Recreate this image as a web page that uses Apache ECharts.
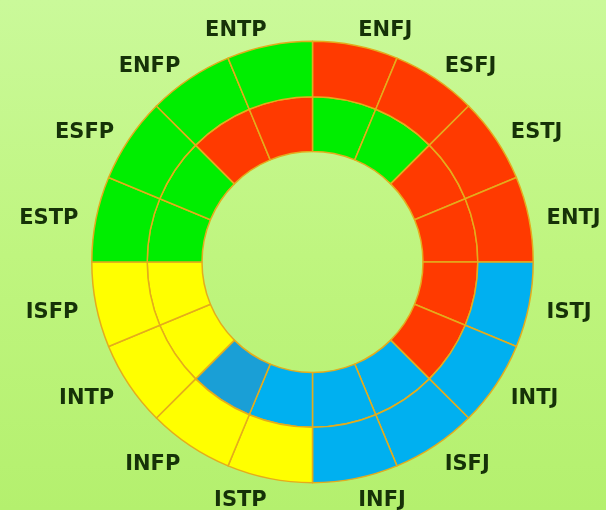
<!DOCTYPE html>
<html>
<head>
<meta charset="utf-8">
<script src="https://cdn.jsdelivr.net/npm/echarts@6/dist/echarts.min.js"></script>
<style>
html,body{margin:0;padding:0;}
#chart{width:606px;height:510px;background:linear-gradient(180deg,#caf99a 0%,#bff57f 50%,#b4f06e 100%);}
</style>
</head>
<body>
<div id="chart"></div>
<script>
// Categories (clockwise from 12 o'clock)
const types = ['ENFJ','ESFJ','ESTJ','ENTJ','ISTJ','INTJ','ISFJ','INFJ','ISTP','INFP','INTP','ISFP','ESTP','ESFP','ENFP','ENTP'];
// Equal-sized segments
const outerValues = [1,1,1,1,1,1,1,1,1,1,1,1,1,1,1,1];
const innerValues = [1,1,1,1,1,1,1,1,1,1,1,1,1,1,1,1];
// Group of each outer segment
const outerGroups = ['EJ','EJ','EJ','EJ','IJ','IJ','IJ','IJ','IP','IP','IP','IP','EP','EP','EP','EP'];
// Group of each inner segment
const innerGroups = ['G','G','R','R','R','R','B','B','B','D','Y','Y','G','G','R','R'];

const groupColors = {
  EJ: '#ff3a00', IJ: '#00b0f0', IP: '#ffff00', EP: '#00ee00',
  G: '#00ee00', R: '#ff3a00', B: '#00b0f0', D: '#1a9fd6', Y: '#ffff00'
};

const chart = echarts.init(document.getElementById('chart'), null, {renderer: 'canvas'});
const border = {borderColor: '#e4ac1c', borderWidth: 1.5};

chart.setOption({
  animation: false,
  series: [
    {
      type: 'pie',
      center: [312.5, 262],
      radius: [110.5, 165.3],
      startAngle: 90,
      clockwise: true,
      silent: true,
      avoidLabelOverlap: false,
      label: {show: false},
      labelLine: {show: false},
      emphasis: {disabled: true},
      data: innerValues.map((v, i) => ({
        name: types[i] + '_in', value: v,
        itemStyle: Object.assign({color: groupColors[innerGroups[i]]}, border)
      }))
    },
    {
      type: 'pie',
      center: [312.5, 262],
      radius: [165.3, 220.7],
      startAngle: 90,
      clockwise: true,
      silent: true,
      avoidLabelOverlap: false,
      label: {
        show: true,
        position: 'outside',
        formatter: '{t|{b}}',
        distanceToLabelLine: -1,
        rich: {
          t: {
            fontFamily: 'DejaVu Sans',
            fontWeight: 'bold',
            fontSize: 21,
            color: '#163208',
            padding: [7, 0, 0, 0]
          }
        }
      },
      labelLine: {show: false, length: 19, length2: 0},
      emphasis: {disabled: true},
      data: outerValues.map((v, i) => ({
        name: types[i], value: v,
        itemStyle: Object.assign({color: groupColors[outerGroups[i]]}, border)
      }))
    }
  ]
});
</script>
</body>
</html>
